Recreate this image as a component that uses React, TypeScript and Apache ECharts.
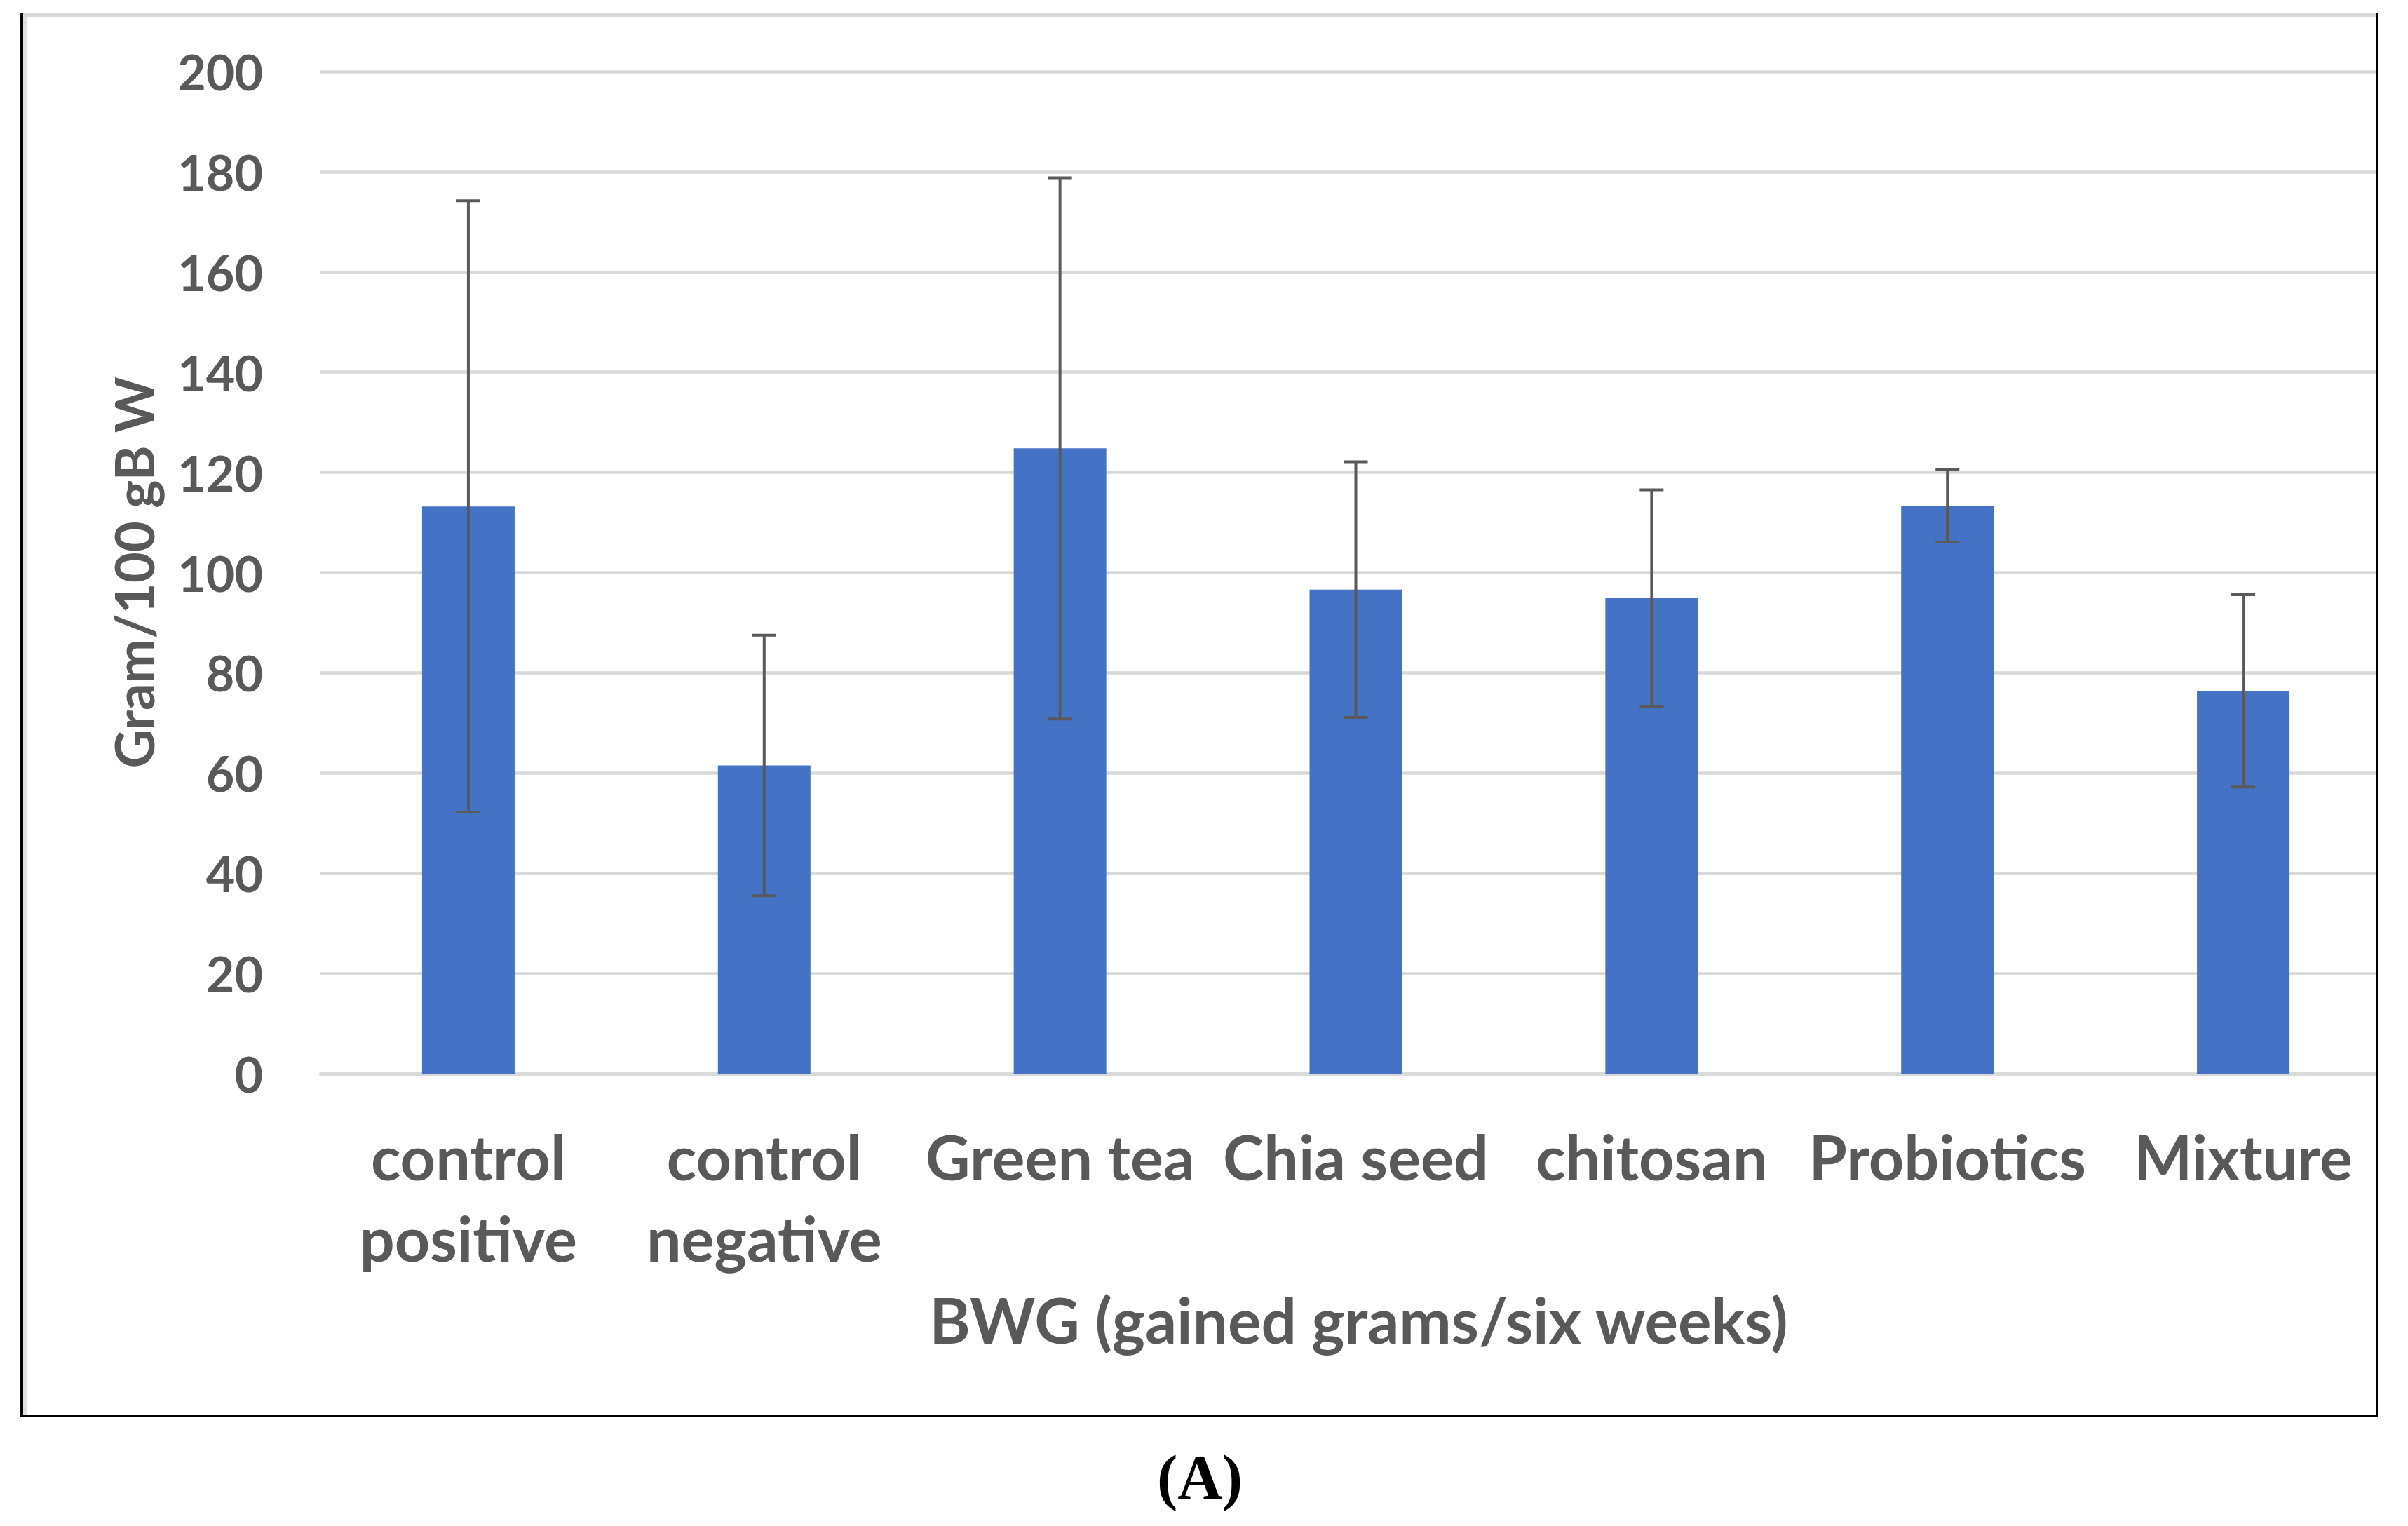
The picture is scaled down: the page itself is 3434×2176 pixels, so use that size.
import React, { useEffect, useRef } from "react";
import * as echarts from "echarts";

const categories = [
  "control\npositive",
  "control\nnegative",
  "Green tea",
  "Chia seed",
  "chitosan",
  "Probiotics",
  "Mixture",
];
const means = [113.2, 61.5, 124.8, 96.6, 94.9, 113.3, 76.4];
const sds = [61, 26, 54, 25.5, 21.6, 7.2, 19.2];
const yMin = 0;
const yMax = 200;
const yStep = 20;
const xTitle = "BWG (gained grams/six weeks)";
const yTitle = "Gram/100 gB W";
const panelLabel = "(A)";

const TEXT = "#595959";
const GRID = "#d9d9d9";
const FONT = "Lato";

export default function App() {
  const ref = useRef<HTMLDivElement>(null);

  useEffect(() => {
    if (!ref.current) return;
    const chart = echarts.init(ref.current, undefined, { renderer: "svg" });
    const errData = means.map((m, i) => [i, m + sds[i], m - sds[i]]);
    const cap = 17;

    const option: any = {
      animation: false,
      backgroundColor: "#ffffff",
      grid: { left: 457, top: 102, width: 2953, height: 1429, containLabel: false },
      xAxis: {
        type: "category",
        data: categories,
        axisLine: { show: true, lineStyle: { color: GRID, width: 4.5 } },
        axisTick: { show: false },
        axisLabel: {
          interval: 0,
          margin: 60,
          fontFamily: FONT,
          fontWeight: "bold",
          fontSize: 88,
          lineHeight: 116,
          color: TEXT,
        },
        name: xTitle,
        nameLocation: "middle",
        nameGap: 306,
        nameTextStyle: {
          fontFamily: FONT,
          fontWeight: "bold",
          fontSize: 89,
          lineHeight: 88,
          color: TEXT,
          padding: [0, 0, 0, 8],
        },
      },
      yAxis: {
        type: "value",
        min: yMin,
        max: yMax,
        interval: yStep,
        axisLine: { show: false },
        axisTick: { show: false },
        splitLine: { show: true, lineStyle: { color: GRID, width: 4.5 } },
        axisLabel: {
          margin: 82,
          fontFamily: FONT,
          fontWeight: "bold",
          fontSize: 70,
          color: TEXT,
        },
        name: yTitle,
        nameLocation: "middle",
        nameRotate: 90,
        nameGap: 229,
        nameTextStyle: {
          fontFamily: FONT,
          fontWeight: "bold",
          fontSize: 76,
          lineHeight: 76,
          color: TEXT,
        },
      },
      series: [
        {
          type: "bar",
          data: means,
          barWidth: 132,
          itemStyle: { color: "#4472c4" },
          z: 2,
        },
        {
          type: "custom",
          data: errData,
          encode: { x: 0, y: [1, 2] },
          z: 5,
          renderItem: (params: any, api: any) => {
            const idx = api.value(0);
            const hi = api.coord([idx, api.value(1)]);
            const lo = api.coord([idx, api.value(2)]);
            const style = { stroke: TEXT, lineWidth: 4 };
            return {
              type: "group",
              children: [
                { type: "line", shape: { x1: hi[0], y1: hi[1], x2: lo[0], y2: lo[1] }, style },
                { type: "line", shape: { x1: hi[0] - cap, y1: hi[1], x2: hi[0] + cap, y2: hi[1] }, style },
                { type: "line", shape: { x1: lo[0] - cap, y1: lo[1], x2: lo[0] + cap, y2: lo[1] }, style },
              ],
            };
          },
        },
      ],
      graphic: [
        { type: "rect", z: 100, silent: true, shape: { x: 3391, y: 0, width: 43, height: 2176 }, style: { fill: "#ffffff" } },
        { type: "line", z: 101, silent: true, shape: { x1: 33, y1: 21, x2: 3390, y2: 21 }, style: { stroke: GRID, lineWidth: 6 } },
        { type: "line", z: 101, silent: true, shape: { x1: 35.5, y1: 24, x2: 35.5, y2: 2018 }, style: { stroke: "#e0e0e0", lineWidth: 5 } },
        { type: "line", z: 102, silent: true, shape: { x1: 31, y1: 18, x2: 31, y2: 2020 }, style: { stroke: "#000000", lineWidth: 4 } },
        { type: "line", z: 102, silent: true, shape: { x1: 3390, y1: 18, x2: 3390, y2: 2020 }, style: { stroke: "#000000", lineWidth: 2 } },
        { type: "line", z: 102, silent: true, shape: { x1: 29, y1: 2019, x2: 3391, y2: 2019 }, style: { stroke: "#000000", lineWidth: 2 } },
        {
          type: "text",
          z: 102,
          silent: true,
          x: 1711,
          y: 2106,
          style: {
            text: panelLabel,
            fontFamily: "Liberation Serif",
            fontWeight: "bold",
            fontSize: 88,
            fill: "#000000",
            align: "center",
            verticalAlign: "middle",
          },
        },
      ],
    };

    chart.setOption(option);
    return () => chart.dispose();
  }, []);

  return (
    <div
      ref={ref}
      style={{ position: "fixed", left: 0, top: 0, width: 3434, height: 2176, background: "#fff" }}
    />
  );
}
